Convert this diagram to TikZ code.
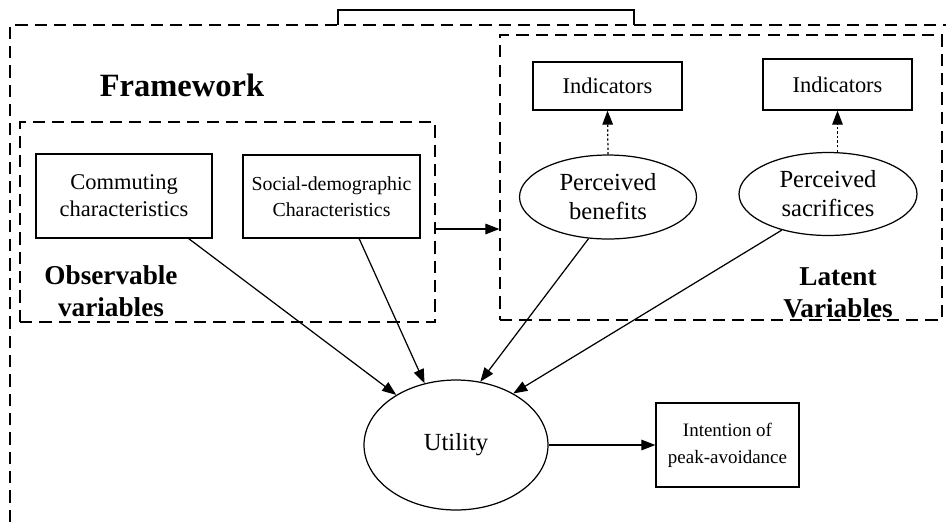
\documentclass[tikz,border=0pt]{standalone}
\usepackage{fontspec}
\setmainfont{Liberation Serif}
\usetikzlibrary{calc,shapes.geometric,arrows.meta}

\tikzset{
  box/.style={draw, line width=0.7pt, rectangle, align=center, inner sep=0pt},
  oval/.style={draw, line width=0.7pt, ellipse, align=center, inner sep=0pt},
  group/.style={draw, line width=0.7pt, dash pattern=on 7pt off 4pt, rectangle, inner sep=0pt},
  title/.style={font=\fontsize{15.5}{18.5}\selectfont\bfseries, align=center},
  link/.style={line width=0.7pt, -{Triangle[length=8pt,width=6pt]}},
  dots/.style={dash pattern=on 1.3pt off 1.3pt},
}

\begin{document}
\begin{tikzpicture}[x=0.02cm, y=-0.02cm]
		%%%%% START %%%%%
		\useasboundingbox (0,0) rectangle (946,522);
		
		% outer frame
		\draw[line width=0.7pt, dash pattern=on 7pt off 4pt] (10,522) -- (10,25) -- (946,25);
		\draw[line width=0.7pt] (338,25) -- (338,10) -- (634,10) -- (634,25);
		\node[font=\fontsize{18.5}{22}\selectfont\bfseries] (fw) at (182,85) {Framework};
		
		% groups
		\node[group, minimum width=8.3cm, minimum height=4cm] (obs) at (227.5,222) {};
		\node[group, minimum width=8.84cm, minimum height=5.7cm] (lat) at (721,177.5) {};
		\node[title] (obstitle) at (111,291) {Observable\\variables};
		\node[title] (lattitle) at (838,293) {Latent\\Variables};
		
		% observable variables
		\node[box, minimum width=3.52cm, minimum height=1.68cm, font=\fontsize{12.8}{15.3}\selectfont] (comm) at (124,196) {Commuting\\characteristics};
		\node[box, minimum width=3.54cm, minimum height=1.66cm, font=\fontsize{11.3}{15}\selectfont] (soc) at (331.5,196.5) {Social-demographic\\Characteristics};
		
		% latent variables
		\node[box, minimum width=2.98cm, minimum height=0.96cm, font=\fontsize{12.8}{15}\selectfont] (ind1) at (607.5,86) {Indicators};
		\node[box, minimum width=2.98cm, minimum height=1.02cm, font=\fontsize{12.8}{15}\selectfont] (ind2) at (837.5,84.5) {Indicators};
		\node[oval, minimum width=3.54cm, minimum height=1.68cm, font=\fontsize{14}{16.5}\selectfont] (ben) at (608,197) {Perceived\\benefits};
		\node[oval, minimum width=3.56cm, minimum height=1.66cm, font=\fontsize{14}{16.5}\selectfont] (sac) at (828,194) {Perceived\\sacrifices};
		
		% outcome
		\node[oval, minimum width=3.68cm, minimum height=2.6cm, font=\fontsize{14}{16.5}\selectfont] (util) at (456,445) {Utility};
		\node[box, minimum width=2.86cm, minimum height=1.68cm, font=\fontsize{10.8}{15.3}\selectfont] (intent) at (727.5,445) {Intention of\\peak-avoidance};
		
		% connectors
		\draw[link, dots] (ben.north) -- (ind1.south);
		\draw[link, dots] (ind2.south |- sac.north) -- (ind2.south);
		\draw[link] ([yshift=-0.14cm]obs.east) -- ([yshift=-0.14cm]obs.east -| lat.west);
		\draw[link] ($(comm.south)!0.73!(comm.south east)$) -- (util.140);
		\draw[link] ($(soc.south)!0.31!(soc.south east)$) -- (util.117);
		\draw[link] (ben.245) -- (util.69);
		\draw[link] (sac.218) -- (util.42);
		\draw[link] (util.east) -- (intent.west);
		
		%%%%% END %%%%%
\end{tikzpicture}
\end{document}
